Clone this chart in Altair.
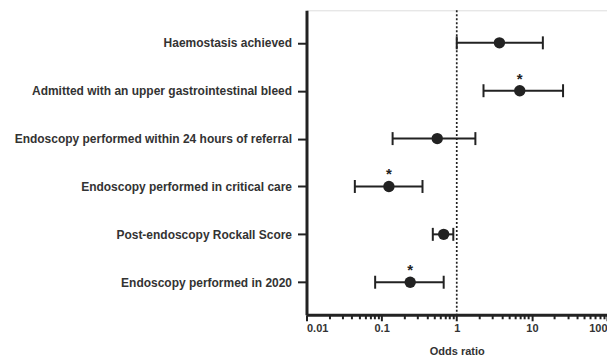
import altair as alt
import pandas as pd

labels = [
    "Haemostasis achieved",
    "Admitted with an upper gastrointestinal bleed",
    "Endoscopy performed within 24 hours of referral",
    "Endoscopy performed in critical care",
    "Post-endoscopy Rockall Score",
    "Endoscopy performed in 2020",
]
odds = [3.7, 6.9, 0.55, 0.125, 0.67, 0.24]
lower = [1.0, 2.27, 0.14, 0.044, 0.48, 0.082]
upper = [14.0, 26.0, 1.77, 0.35, 0.90, 0.67]
sig = ["", "*", "", "*", "", "*"]

major_ticks = [0.01, 0.1, 1, 10, 100]
minor_ticks = [m * d for d in [0.01, 0.1, 1, 10] for m in range(2, 10)]
tick_values = sorted(major_ticks + minor_ticks)
ref_value = [1]

df = pd.DataFrame({"label": labels, "odds": odds, "lower": lower, "upper": upper, "sig": sig})
ref = pd.DataFrame({"x": ref_value})

FONT = "Liberation Sans"
INK = "#222222"
TXT = "#333333"

major_test = "abs(log(datum.value)/LN10 - round(log(datum.value)/LN10)) < 1e-6"

xscale = alt.Scale(type="log", domain=[0.01, 100], nice=False)
yscale = alt.Scale(type="point", domain=labels, padding=0.68)

xaxis = alt.Axis(
    values=tick_values,
    labelExpr=f"{major_test} ? format(datum.value, '~g') : ''",
    labelOverlap=False,
    tickSize={"condition": {"test": major_test, "value": 6}, "value": 4},
    tickWidth=2,
    tickColor=INK,
    domainWidth=3,
    domainColor=INK,
    labelFont=FONT,
    labelFontSize=11,
    labelFontWeight="bold",
    labelColor=TXT,
    labelPadding=2,
    title="Odds ratio",
    titleFont=FONT,
    titleFontSize=11,
    titleFontWeight="bold",
    titleColor=TXT,
    titlePadding=12,
    grid=False,
)

yaxis = alt.Axis(
    title=None,
    domainWidth=3,
    domainColor=INK,
    tickSize=9,
    tickWidth=2,
    tickColor=INK,
    labelFont=FONT,
    labelFontSize=12,
    labelFontWeight="bold",
    labelColor=TXT,
    labelPadding=6,
    labelLimit=0,
    grid=False,
)

base = alt.Chart(df)

refline = alt.Chart(ref).mark_rule(color=INK, strokeDash=[2, 2], strokeWidth=1.7).encode(
    x=alt.X("x:Q", scale=xscale, axis=xaxis)
)

bars = base.mark_rule(color=INK, strokeWidth=2).encode(
    x=alt.X("lower:Q", scale=xscale, axis=xaxis),
    x2="upper:Q",
    y=alt.Y("label:N", scale=yscale, axis=yaxis, sort=labels),
)

cap_lo = base.mark_tick(color=INK, thickness=2, size=13, opacity=1).encode(
    x=alt.X("lower:Q", scale=xscale),
    y=alt.Y("label:N", scale=yscale, sort=labels),
)
cap_hi = base.mark_tick(color=INK, thickness=2, size=13, opacity=1).encode(
    x=alt.X("upper:Q", scale=xscale),
    y=alt.Y("label:N", scale=yscale, sort=labels),
)

points = base.mark_circle(color=INK, size=130, opacity=1).encode(
    x=alt.X("odds:Q", scale=xscale),
    y=alt.Y("label:N", scale=yscale, sort=labels),
)

stars = base.mark_text(color=INK, fontSize=15, fontWeight="bold", font=FONT, dy=-12, baseline="middle").encode(
    x=alt.X("odds:Q", scale=xscale),
    y=alt.Y("label:N", scale=yscale, sort=labels),
    text="sig:N",
)

chart = (
    alt.layer(refline, bars, cap_lo, cap_hi, points, stars)
    .properties(
        width=301,
        height=305,
        autosize=alt.AutoSizeParams(type="none"),
        padding={"left": 299, "top": 2, "right": 0, "bottom": 45},
    )
    .configure_view(stroke=None)
    .configure(background="white")
)

chart.save("out.html", embed_options={"renderer": "svg", "actions": False})
